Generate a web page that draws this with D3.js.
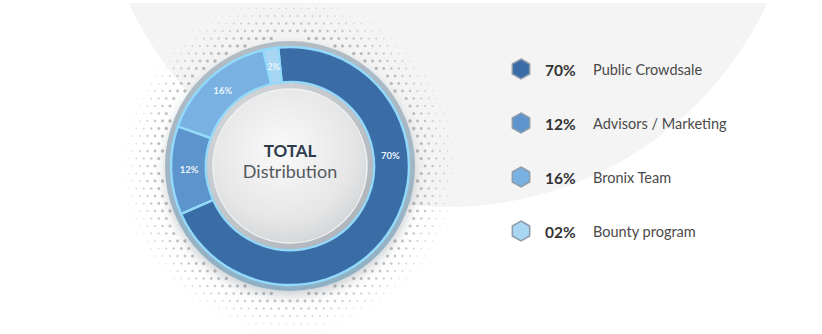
<!DOCTYPE html>
<html lang="en">
<head>
<meta charset="utf-8">
<title>Total Distribution</title>
<script src="https://cdn.jsdelivr.net/npm/d3@7"></script>
<style>
  body { margin: 0; background: #fff; }
  svg { display: block; font-family: Lato, "Open Sans", sans-serif; }
</style>
</head>
<body>
<div id="chart"></div>
<script>
// data
var categories = ["Public Crowdsale", "Advisors / Marketing", "Bronix Team", "Bounty program"];
var shares = [70, 12, 16, 2];
var ringLabels = ["70%", "12%", "16%", "2%"];
var legendLabels = ["70%", "12%", "16%", "02%"];
var colors = ["#3a6ca6", "#5c94cb", "#79b1e2", "#a8d6f3"];

var W = 822, H = 334;
var cx = 290, cy = 166;

var svg = d3.select("#chart").append("svg")
    .attr("width", W)
    .attr("height", H);

var defs = svg.append("defs");

var shadow = defs.append("filter").attr("id", "shadow")
    .attr("x", "-30%").attr("y", "-30%").attr("width", "160%").attr("height", "160%");
shadow.append("feDropShadow")
    .attr("dx", 0).attr("dy", 5).attr("stdDeviation", 6)
    .attr("flood-color", "#6a7580").attr("flood-opacity", 0.35);

var btnGrad = defs.append("radialGradient").attr("id", "btn")
    .attr("cx", "45%").attr("cy", "40%").attr("r", "65%");
btnGrad.append("stop").attr("offset", "0%").attr("stop-color", "#fafafa");
btnGrad.append("stop").attr("offset", "70%").attr("stop-color", "#e6e6e6");
btnGrad.append("stop").attr("offset", "100%").attr("stop-color", "#cfd2d5");

var bevelGrad = defs.append("linearGradient").attr("id", "bevel")
    .attr("x1", 0).attr("y1", 0).attr("x2", 0).attr("y2", 1);
bevelGrad.append("stop").attr("offset", "0%").attr("stop-color", "#b3bcc4");
bevelGrad.append("stop").attr("offset", "100%").attr("stop-color", "#8fb0c4");

var innerBevel = defs.append("linearGradient").attr("id", "innerBevel")
    .attr("x1", 0).attr("y1", 0).attr("x2", 1).attr("y2", 1);
innerBevel.append("stop").attr("offset", "0%").attr("stop-color", "#d6d9dc");
innerBevel.append("stop").attr("offset", "100%").attr("stop-color", "#a9b0b7");

// big light backdrop circle
svg.append("circle")
    .attr("cx", 448).attr("cy", -145).attr("r", 352)
    .attr("fill", "#f4f4f4");
svg.append("rect").attr("x", 0).attr("y", 0).attr("width", W).attr("height", 3).attr("fill", "#fff");

// halftone dots around the ring
var dots = svg.append("g");
var step = 7.5;
for (var gx = cx - 180; gx <= cx + 180; gx += step) {
  for (var gy = cy - 180; gy <= cy + 180; gy += step) {
    var row = Math.round((gy - cy) / step);
    var px = gx + (row % 2 ? step / 2 : 0);
    var d = Math.hypot(px - cx, gy - cy);
    if (d < 128 || d > 170) continue;
    var t = (d - 128) / 42;
    var r = 1.3 * (1 - t) + 0.4;
    dots.append("circle")
        .attr("cx", px).attr("cy", gy).attr("r", r)
        .attr("fill", "#9a9a9a")
        .attr("opacity", 0.7 - 0.5 * t);
  }
}

var g = svg.append("g").attr("transform", "translate(" + cx + "," + cy + ")");

// outer bevel
g.append("circle").attr("r", 125).attr("fill", "url(#bevel)").attr("filter", "url(#shadow)");

var pie = d3.pie().sort(null)
    .startAngle(-0.1).endAngle(2 * Math.PI - 0.1)
    .value(function(d) { return d; });
var arcs = pie(shares);

var arc = d3.arc().innerRadius(84).outerRadius(119);

g.selectAll("path.seg")
    .data(arcs)
    .enter().append("path")
    .attr("class", "seg")
    .attr("d", arc)
    .attr("fill", function(d, i) { return colors[i]; })
    .attr("stroke", "#92d9fa")
    .attr("stroke-width", 2.5);

// labels in the ring
g.selectAll("text.pct")
    .data(arcs)
    .enter().append("text")
    .attr("class", "pct")
    .attr("transform", function(d) {
      var a = d.startAngle + Math.min((d.endAngle - d.startAngle) / 2, Math.PI / 2);
      var rr = 101;
      return "translate(" + (Math.sin(a) * rr) + "," + (-Math.cos(a) * rr) + ")";
    })
    .attr("text-anchor", "middle")
    .attr("dy", "0.35em")
    .attr("fill", "#eaf4fc")
    .attr("font-size", 9.5)
    .attr("font-weight", 700)
    .text(function(d, i) { return ringLabels[i]; });

// inner button
g.append("circle").attr("r", 83).attr("fill", "url(#innerBevel)");
g.append("circle").attr("r", 77).attr("fill", "url(#btn)")
    .attr("stroke", "#eef0f2").attr("stroke-width", 1.5);

g.append("text")
    .attr("text-anchor", "middle")
    .attr("y", -9)
    .attr("fill", "#2e3b4c")
    .attr("font-size", 17)
    .attr("font-weight", 700)
    .text("TOTAL");
g.append("text")
    .attr("text-anchor", "middle")
    .attr("y", 12)
    .attr("fill", "#555a60")
    .attr("font-size", 18)
    .text("Distribution");

// legend
var ly = d3.scalePoint().domain(categories).range([70, 232]);
var hex = d3.line();
function hexPts(r) {
  var pts = [];
  for (var k = 0; k < 6; k++) {
    var a = Math.PI / 3 * k;
    pts.push([Math.sin(a) * r, -Math.cos(a) * r]);
  }
  return pts;
}

var items = svg.append("g").selectAll("g")
    .data(categories)
    .enter().append("g")
    .attr("transform", function(d) { return "translate(0," + ly(d) + ")"; });

items.append("path")
    .attr("transform", "translate(521,-1)")
    .attr("d", hex(hexPts(10)) + "Z")
    .attr("fill", function(d, i) { return colors[i]; })
    .attr("stroke", "#8f9caa")
    .attr("stroke-width", 1.5);

items.append("text")
    .attr("x", 545)
    .attr("dy", "0.36em")
    .attr("fill", "#333")
    .attr("font-size", 15.5)
    .attr("font-weight", 700)
    .text(function(d, i) { return legendLabels[i]; });

items.append("text")
    .attr("x", 593)
    .attr("dy", "0.36em")
    .attr("fill", "#4a4a4a")
    .attr("font-size", 14.5)
    .text(function(d) { return d; });
</script>
</body>
</html>
